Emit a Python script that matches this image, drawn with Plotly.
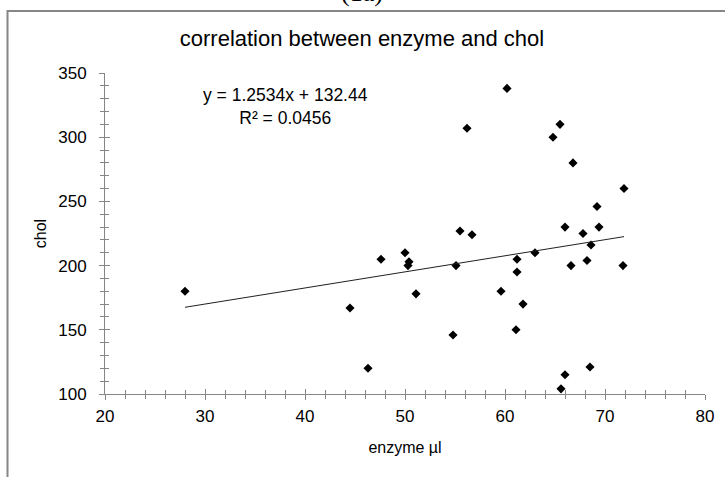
import plotly.graph_objects as go

# values
enzyme = [28.0, 44.5, 46.3, 47.6, 50.0, 50.4, 50.3, 51.1, 54.8, 55.1, 55.5, 56.2,
          56.7, 59.6, 60.2, 61.2, 61.2, 61.1, 61.8, 63.0, 64.8, 65.5, 65.6, 66.0,
          66.0, 66.6, 66.8, 67.8, 68.2, 68.5, 68.6, 69.2, 69.4, 71.8, 71.9]
chol = [180, 167, 120, 205, 210, 203, 200, 178, 146, 200, 227, 307,
        224, 180, 338, 205, 195, 150, 170, 210, 300, 310, 104, 115,
        230, 200, 280, 225, 204, 121, 216, 246, 230, 200, 260]

# trendline as printed on the chart
slope = 1.2534
intercept = 132.44
r_squared = 0.0456

x_ticks = [20, 30, 40, 50, 60, 70, 80]
y_ticks = [100, 150, 200, 250, 300, 350]

grey = '#868686'
font_family = 'Liberation Sans, Arial, sans-serif'

W, H = 725, 477
L, T, PW, PH = 105, 73, 600, 321

x_line = [min(enzyme), max(enzyme)]
y_line = [slope * v + intercept for v in x_line]

fig = go.Figure()

fig.add_trace(go.Scatter(
    x=x_line, y=y_line, mode='lines',
    line=dict(color='#202020', width=1),
    xaxis='x2', yaxis='y2', showlegend=False, hoverinfo='skip'
))

fig.add_trace(go.Scatter(
    x=enzyme, y=chol, mode='markers',
    marker=dict(symbol='diamond', size=7, color='black', line=dict(width=0)),
    showlegend=False
))

common = dict(showgrid=False, zeroline=False, automargin=False)

fig.update_layout(
    width=W,
    height=H,
    paper_bgcolor='white',
    plot_bgcolor='white',
    margin=dict(l=L, r=W - L - PW, t=T, b=H - T - PH),
    font=dict(family=font_family, size=17, color='black'),
    title=dict(text='correlation between enzyme and chol', x=362 / W, xanchor='center',
               y=1 - 38 / H, yanchor='middle', font=dict(size=22),
               automargin=False),
    xaxis=dict(
        range=[20, 80], tickmode='array', tickvals=x_ticks,
        ticktext=[str(t) for t in x_ticks],
        ticks='outside', ticklen=5, tickcolor=grey, tickwidth=1,
        minor=dict(ticks='outside', tickmode='linear', tick0=20, dtick=2,
                   ticklen=4, tickcolor=grey),
        showline=True, linecolor=grey, linewidth=1,
        ticklabelstandoff=2,
        title=dict(text='enzyme µl', font=dict(size=16), standoff=16),
        **common
    ),
    xaxis2=dict(
        overlaying='x', side='bottom', range=[20, 80],
        tickmode='array', tickvals=x_ticks, showticklabels=False,
        ticks='inside', ticklen=5, tickcolor=grey, tickwidth=1,
        minor=dict(ticks='inside', tickmode='linear', tick0=20, dtick=2,
                   ticklen=4, tickcolor=grey),
        showline=False, **common
    ),
    yaxis=dict(
        range=[100, 350], tickmode='array', tickvals=y_ticks,
        ticktext=[str(t) for t in y_ticks],
        ticks='outside', ticklen=5, tickcolor=grey, tickwidth=1,
        minor=dict(ticks='outside', tickmode='linear', tick0=100, dtick=10,
                   ticklen=4, tickcolor=grey),
        showline=True, linecolor=grey, linewidth=1,
        ticklabelstandoff=9,
        title=dict(text='chol', font=dict(size=16), standoff=7),
        **common
    ),
    yaxis2=dict(
        overlaying='y', side='left', range=[100, 350],
        tickmode='array', tickvals=y_ticks, showticklabels=False,
        ticks='inside', ticklen=5, tickcolor=grey, tickwidth=1,
        minor=dict(ticks='inside', tickmode='linear', tick0=100, dtick=10,
                   ticklen=4, tickcolor=grey),
        showline=False, **common
    ),
)

fig.add_annotation(
    x=38, y=324, xref='x', yref='y',
    text=f'y = {slope}x + {intercept}<br>R² = {r_squared}',
    showarrow=False, align='center', font=dict(size=17.5)
)

# caption of the chart above, cut off at the top edge
fig.add_annotation(
    x=(362 - L) / PW, y=(T + PH - 9) / PH, xref='paper', yref='paper',
    xanchor='center', yanchor='bottom', text='(1a)', showarrow=False,
    font=dict(family='Liberation Serif, Times New Roman, serif', size=26)
)

# outer frame of the original sheet (only its top and left sides are in view)
fig.add_shape(type='rect', xref='paper', yref='paper',
              x0=(7.5 - L) / PW, x1=(W + 20 - L) / PW,
              y0=(T + PH - 11) / PH, y1=-0.4,
              line=dict(color=grey, width=2), fillcolor='rgba(0,0,0,0)',
              layer='below')

# drop the page's default body margin so the figure fills the window
fig.write_html('out.html', config={'displayModeBar': False},
               post_script="document.body.style.margin = '0';")
